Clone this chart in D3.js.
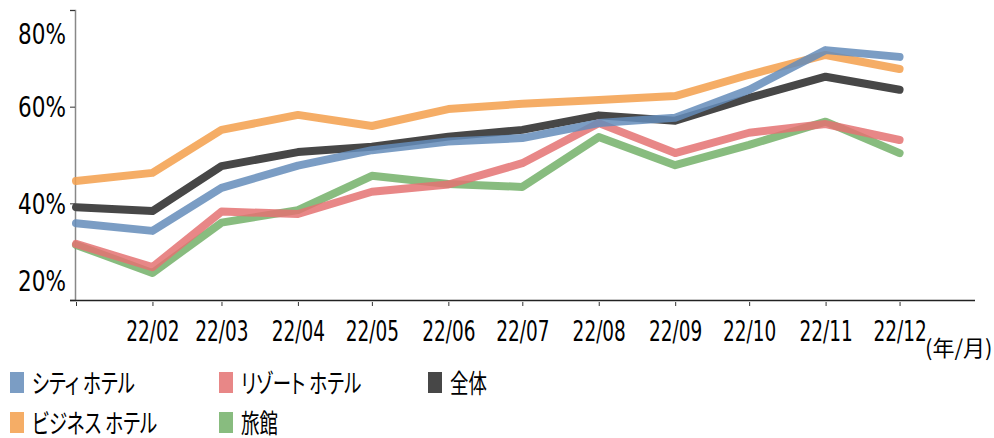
<!DOCTYPE html>
<html><head><meta charset="utf-8">
<script src="https://cdn.jsdelivr.net/npm/d3@7"></script>
<style>
html,body{margin:0;padding:0;background:#fff;}
svg{display:block;}
text{font-family:"DejaVu Sans",sans-serif;fill:#000;}
.lg{font-family:"Noto Sans CJK JP",sans-serif;font-feature-settings:"palt";}
</style></head>
<body>
<svg id="c" width="994" height="438"></svg>
<script>
const months = ["2022-01","2022-02","2022-03","2022-04","2022-05","2022-06","2022-07","2022-08","2022-09","2022-10","2022-11","2022-12"];
const tickLabels = ["", "22/02","22/03","22/04","22/05","22/06","22/07","22/08","22/09","22/10","22/11","22/12"];
const yTicks = [20, 40, 60, 80];
const seriesNames = ["全体","旅館","リゾート ホテル","ビジネス ホテル","シティ ホテル"];
const total    = [39.2, 38.4, 47.7, 50.6, 51.7, 53.8, 55.2, 58.2, 57.1, 61.8, 66.2, 63.5];
const ryokan   = [31.4, 25.6, 36.0, 38.6, 45.7, 44.0, 43.4, 53.7, 47.9, 52.1, 56.9, 50.4];
const resort   = [31.6, 26.8, 38.3, 37.8, 42.4, 43.9, 48.3, 56.6, 50.4, 54.6, 56.4, 53.1];
const business = [44.6, 46.3, 55.2, 58.3, 56.0, 59.5, 60.6, 61.4, 62.2, 66.6, 70.7, 67.8];
const city     = [35.9, 34.3, 43.2, 47.8, 51.0, 52.8, 53.5, 56.6, 57.7, 63.5, 71.7, 70.3];
const seriesValues = [total, ryokan, resort, business, city];
const colors = ["#474747","#73B068","#E47272","#F39F4B","#648CBA"];
const opac = [1, 0.85, 0.85, 0.85, 0.85];
const legendOrder = ["シティ ホテル","リゾート ホテル","全体","ビジネス ホテル","旅館"];

const svg = d3.select("#c");
const parse = d3.timeParse("%Y-%m");
const dates = months.map(parse);
const x = d3.scaleTime().domain([new Date(2022,0,1), new Date(2023,0,1)]).range([76, 976]);
const y = d3.scaleLinear().domain([20, 80]).range([300, 10]);

// y axis
const ya = svg.append("g").attr("transform","translate(75,0)")
  .call(d3.axisLeft(y).tickValues(yTicks).tickSize(5).tickFormat(d => d + "%"));
ya.select(".domain").attr("stroke","#888").attr("stroke-width",1.5);
ya.selectAll(".tick line").attr("stroke","#333");
ya.selectAll(".tick text").each(function(d){
  const t = d3.select(this);
  const py = Math.max(y(80)+23, Math.min(y(20)-20, y(d)));
  t.attr("x", null).attr("dy", null).attr("text-anchor","end").attr("font-size",28)
   .attr("transform", `translate(-9,${py - y(d) + 10}) scale(0.77,1)`)
   .attr("y", 0);
});

// x axis
const xa = svg.append("g").attr("transform","translate(0,300)")
  .call(d3.axisBottom(x).tickValues(dates).tickSize(6).tickSizeOuter(0).tickFormat((d,i)=>tickLabels[i]));
xa.select(".domain").attr("stroke","#222").attr("stroke-width",1.5).attr("d", `M${70},0.5H${975}`);
xa.selectAll(".tick line").attr("stroke","#333").attr("y1",2);
xa.selectAll(".tick text").attr("font-size",28).attr("dy",null).attr("y",0)
  .attr("transform","translate(0,41) scale(0.66,1)");

svg.append("text").attr("x",925).attr("y",356).attr("font-size",22)
  .attr("class","lg").text("(年/月)");

// lines
const line = d3.line().x((d,i)=>x(dates[i])).y(d=>y(d));
seriesValues.forEach((vals,k)=>{
  svg.append("path").datum(vals).attr("d",line).attr("fill","none")
    .attr("stroke",colors[k]).attr("stroke-opacity",opac[k]).attr("stroke-width",8)
    .attr("stroke-linejoin","round").attr("stroke-linecap","round");
});

// legend
const colX = [10, 219, 428];
const rowY = [372, 412];
legendOrder.forEach((name,i)=>{
  const k = seriesNames.indexOf(name);
  const cx = colX[i % 3], cy = rowY[Math.floor(i/3)];
  const g = svg.append("g").attr("transform",`translate(${cx},${cy})`);
  const col = d3.color(colors[k]);
  const a = opac[k];
  const blended = d3.rgb(col.r*a+255*(1-a), col.g*a+255*(1-a), col.b*a+255*(1-a));
  g.append("rect").attr("width",14).attr("height",21).attr("fill",blended);
  g.append("text").attr("class","lg").attr("font-size",26)
    .attr("transform","translate(22,21) scale(0.71,1)").text(name);
});
</script>
</body></html>
